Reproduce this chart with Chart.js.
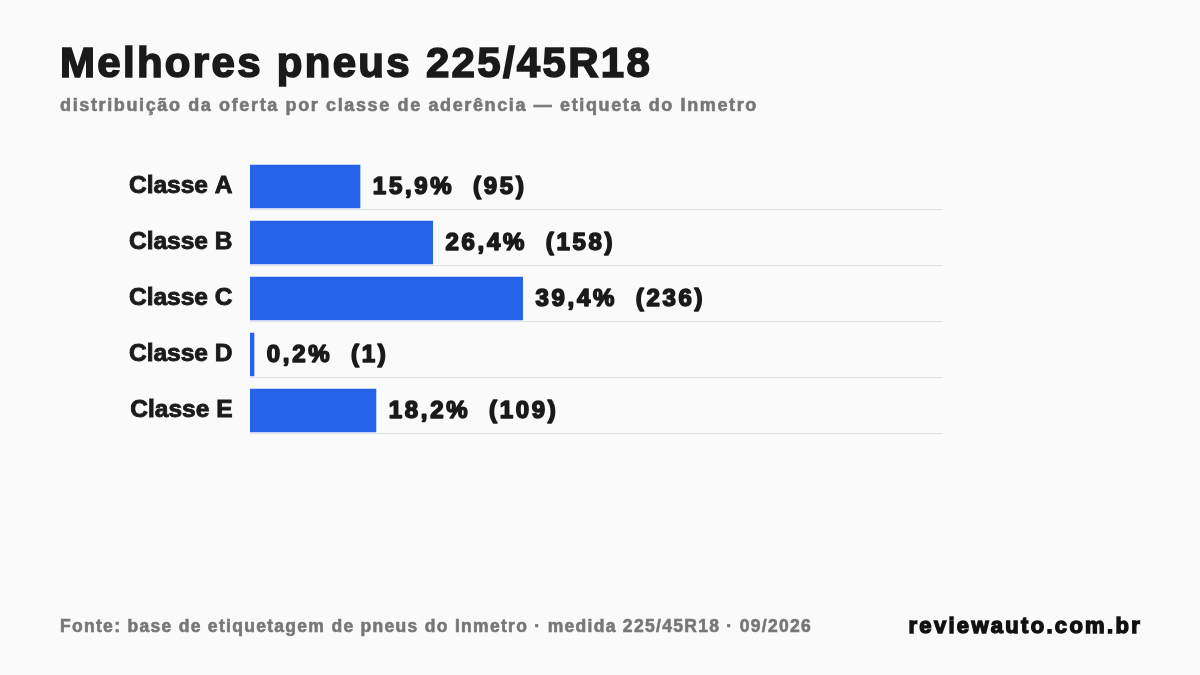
<!DOCTYPE html>
<html lang="pt-BR">
<head>
<meta charset="utf-8">
<title>Melhores pneus 225/45R18</title>
<script src="https://cdn.jsdelivr.net/npm/chart.js@4.4.1/dist/chart.umd.min.js"></script>
<style>
    html, body {
        margin: 0;
        padding: 0;
        background: #fafafa;
    }

    #page {
        position: relative;
        width: 1200px;
        height: 675px;
        overflow: hidden;
        font-family: "Liberation Sans", Arial, sans-serif;
        font-weight: bold;
    }

    #page div {
        position: absolute;
        line-height: 1;
        white-space: nowrap;
    }

    #title {
        left: 60px;
        top: 42px;
        font-size: 42px;
        letter-spacing: 2.3px;
        -webkit-text-stroke: 1.6px #1a1a1a;
        color: #1a1a1a;
    }

    #subtitle {
        left: 60px;
        top: 96px;
        font-size: 18px;
        letter-spacing: 1.63px;
        -webkit-text-stroke: 0.6px #777777;
        color: #777777;
    }

    #source {
        left: 60px;
        top: 618px;
        font-size: 17.5px;
        letter-spacing: 1.3px;
        -webkit-text-stroke: 0.6px #777777;
        color: #777777;
    }

    #brand {
        right: 58px;
        top: 615px;
        font-size: 22px;
        letter-spacing: 2.3px;
        -webkit-text-stroke: 1.4px #111111;
        color: #111111;
    }

    #myChart {
        position: absolute;
        left: 0;
        top: 0;
    }
</style>
</head>
<body>
<div id="page">
    <canvas id="myChart" width="1200" height="675"></canvas>
    <div id="title">Melhores pneus 225/45R18</div>
    <div id="subtitle">distribuição da oferta por classe de aderência — etiqueta do Inmetro</div>
    <div id="source">Fonte: base de etiquetagem de pneus do Inmetro · medida 225/45R18 · 09/2026</div>
    <div id="brand">reviewauto.com.br</div>
</div>

<script>
const categories = ["Classe A", "Classe B", "Classe C", "Classe D", "Classe E"];
const shares = [15.9, 26.4, 39.4, 0.2, 18.2];
const counts = [95, 158, 236, 1, 109];

const FONT = '"Liberation Sans", Arial, sans-serif';
const INK = "#1a1a1a";

// thin line under each bar
const rowLines = {
    id: "rowLines",
    beforeDatasetsDraw(chart) {
        const ctx = chart.ctx;
        const area = chart.chartArea;
        const bars = chart.getDatasetMeta(0).data;

        ctx.save();
        ctx.strokeStyle = "#e2e2e2";
        ctx.lineWidth = 1;
        bars.forEach(bar => {
            const y = Math.round(bar.y + bar.height / 2) + 1.5;
            ctx.beginPath();
            ctx.moveTo(area.left, y);
            ctx.lineTo(area.right, y);
            ctx.stroke();
        });
        ctx.restore();
    }
};

// "15,9%  (95)" next to each bar
const valueLabels = {
    id: "valueLabels",
    afterDatasetsDraw(chart) {
        const ctx = chart.ctx;
        const bars = chart.getDatasetMeta(0).data;

        ctx.save();
        ctx.font = "bold 24px " + FONT;
        ctx.fillStyle = INK;
        ctx.strokeStyle = INK;
        ctx.lineWidth = 1.6;
        ctx.lineJoin = "round";
        ctx.letterSpacing = "2.7px";
        ctx.textAlign = "left";
        ctx.textBaseline = "middle";
        bars.forEach((bar, i) => {
            const pct = shares[i].toFixed(1).replace(".", ",");
            const text = pct + "%  (" + counts[i] + ")";
            const x = bar.x + 12.8;
            ctx.strokeText(text, x, bar.y + 1);
            ctx.fillText(text, x, bar.y + 1);
        });
        ctx.restore();
    }
};

const chart = new Chart(document.getElementById("myChart"), {
    type: "bar",
    data: {
        labels: categories,
        datasets: [{
            data: shares,
            backgroundColor: "#2563eb",
            borderWidth: 0,
            barThickness: 43,
            minBarLength: 4
        }]
    },
    options: {
        responsive: false,
        animation: false,
        indexAxis: "y",
        layout: {
            padding: { top: 158.5, bottom: 236.5, left: 0, right: 258 }
        },
        plugins: {
            legend: { display: false },
            tooltip: { enabled: false }
        },
        scales: {
            x: {
                display: false,
                min: 0,
                max: 100
            },
            y: {
                grid: { display: false, drawTicks: false },
                border: { display: false },
                ticks: {
                    color: INK,
                    textStrokeColor: INK,
                    textStrokeWidth: 0.9,
                    padding: 17.5,
                    font: { family: FONT, size: 24.5, weight: "bold" }
                },
                afterFit(scale) {
                    scale.width = 250;
                }
            }
        }
    },
    plugins: [rowLines, valueLabels]
});
</script>
</body>
</html>
